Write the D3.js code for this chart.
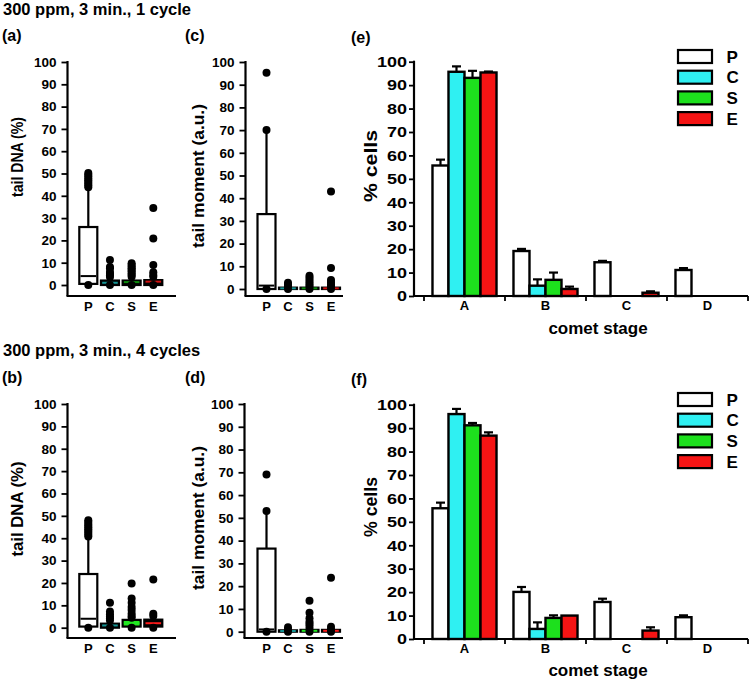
<!DOCTYPE html>
<html><head><meta charset="utf-8">
<script src="https://cdn.jsdelivr.net/npm/d3@7"></script>
<style>
body{margin:0;background:#fff;}
svg text{font-family:"Liberation Sans",Arial,Helvetica,sans-serif;font-weight:bold;fill:#000;}
</style></head><body>
<svg id="chart" width="750" height="683"></svg>
<script>
// ---------- DATA ----------
const groups = ["P", "C", "S", "E"];
const stages = ["A", "B", "C", "D"];
const yTickValues = [0, 10, 20, 30, 40, 50, 60, 70, 80, 90, 100];
const titles = ["300 ppm, 3 min., 1 cycle", "300 ppm, 3 min., 4 cycles"];

// (a) tail DNA (%), 1 cycle
const aQ1 = [0.5, 0, 0, 0];
const aMedian = [4, 1, 1.3, 1.5];
const aQ3 = [26, 2, 2, 2.2];
const aWhiskerHi = [43, 3, 3, 3];
const aOutliers = [
  [0, 43.8, 44.6, 45.4, 46.2, 47, 47.8, 48.6, 49.4, 50.2],
  [0, 3.6, 4.4, 5, 5.8, 7.5, 8.1, 11.2],
  [0, 3.7, 4.5, 5.2, 6, 6.7, 7.5, 8.2, 9, 9.7],
  [0, 3.7, 4.5, 5.7, 9, 20.8, 34.5]
];
// (b) tail DNA (%), 4 cycles
const bQ1 = [0.5, 0, 0.5, 0.5];
const bMedian = [4, 1, 2, 2];
const bQ3 = [24, 1.8, 3.5, 3.6];
const bWhiskerHi = [40, 3, 4, 4];
const bOutliers = [
  [0, 40.8, 41.6, 42.4, 43.2, 44, 44.8, 45.6, 46.4, 47.2, 48],
  [0, 3.2, 4.2, 5, 6, 7.2, 11.2],
  [0, 4.5, 5.2, 6.4, 7.9, 9.3, 11.1, 13, 19.8],
  [0, 5.2, 6.2, 21.5]
];
// (c) tail moment (a.u.), 1 cycle
const cQ1 = [0, 0, 0, 0];
const cMedian = [1.5, 0.3, 0.3, 0.3];
const cQ3 = [33, 0.6, 0.6, 0.6];
const cWhiskerHi = [69.5, 1, 1, 1];
const cOutliers = [
  [0, 70, 95.3],
  [0, 1.2, 2, 2.8],
  [0, 1.2, 2, 3, 4, 5, 5.8],
  [0, 1.2, 2, 3, 4, 9.2, 43]
];
// (d) tail moment (a.u.), 4 cycles
const dQ1 = [0, 0, 0, 0];
const dMedian = [1, 0.3, 0.4, 0.4];
const dQ3 = [36.5, 0.6, 0.8, 0.8];
const dWhiskerHi = [52.5, 1, 1, 1];
const dOutliers = [
  [0, 53, 69],
  [0, 1, 1.9],
  [0, 1.2, 2.5, 3.5, 4.4, 5.9, 8.3, 13.6],
  [0, 1, 2.2, 23.7]
];
// (e) % cells per comet stage, 1 cycle  (rows = stages A..D, cols = P,C,S,E)
const eMeans = [[55.7, 95.7, 93.1, 95.4], [19.2, 4.4, 6.9, 3.0], [14.4, 0, 0, 1.4], [11.1, 0, 0, 0]];
const eErrors = [[2.5, 2.3, 3.0, 0.4], [0.9, 2.7, 3.1, 1.0], [0.6, 0, 0, 0.6], [0.8, 0, 0, 0]];
// (f) % cells per comet stage, 4 cycles
const fMeans = [[55.8, 96.0, 91.2, 86.8], [20.1, 4.3, 9.0, 10.0], [15.8, 0, 0, 3.6], [9.3, 0, 0, 0]];
const fErrors = [[2.4, 2.2, 1.0, 1.4], [2.1, 2.8, 1.1, 0], [1.4, 0, 0, 1.4], [0.8, 0, 0, 0]];

// ---------- STYLES ----------
const barColors = {P: "#ffffff", C: "#2ff0f2", S: "#1de01d", E: "#f51414"};
const medColorsTop = ["#000000", "#159494", "#0c8a0c", "#d01010"];
const medColorsBot = ["#000000", "#159494", "#22e822", "#ff1a1a"];
const boxFillTop = ["#ffffff", "#000000", "#000000", "#000000"];
const boxFillBot = ["#ffffff", "#000000", "#22e822", "#000000"];

const svg = d3.select("#chart");

function txt(x, y, s, size, anchor) {
  return svg.append("text").attr("x", x).attr("y", y).attr("font-size", size)
    .attr("text-anchor", anchor || "start").text(s);
}
function vlabel(x, cy, s, size, len) {
  const t = svg.append("text").attr("transform", `translate(${x},${cy}) rotate(-90)`)
    .attr("text-anchor", "middle").attr("font-size", size).text(s);
  if (len) t.attr("textLength", len).attr("lengthAdjust", "spacingAndGlyphs");
  return t;
}

// ---------- BOX PANELS ----------
function boxPanel(cfg, q1, med, q3, wHi, outs, fills, meds) {
  const y = d3.scaleLinear().domain([0, 100]).range([cfg.y0, cfg.y100]);
  const x = d3.scalePoint().domain(groups).range([cfg.pX, cfg.eX]);
  const g = svg.append("g");
  const ax = g.append("g").attr("transform", `translate(${cfg.ax},0)`)
    .call(d3.axisLeft(y).tickValues(yTickValues).tickSize(6).tickPadding(5));
  ax.select(".domain").remove();
  ax.selectAll(".tick line").attr("stroke", "#000").attr("stroke-width", 1.8);
  ax.selectAll(".tick text").attr("font-size", 13.5).attr("fill", "#000");
  g.append("line").attr("x1", cfg.ax).attr("x2", cfg.ax).attr("y1", cfg.y100 - 1).attr("y2", cfg.xAxisY)
    .attr("stroke", "#000").attr("stroke-width", 2.2);
  g.append("line").attr("x1", cfg.ax - 1).attr("x2", cfg.xEnd).attr("y1", cfg.xAxisY).attr("y2", cfg.xAxisY)
    .attr("stroke", "#000").attr("stroke-width", 2.2);
  const bw = 18;
  groups.forEach((k, i) => {
    const cx = x(k);
    g.append("line").attr("x1", cx).attr("x2", cx).attr("y1", y(q3[i])).attr("y2", y(wHi[i]))
      .attr("stroke", "#000").attr("stroke-width", 2.2);
    g.append("rect").attr("x", cx - bw / 2).attr("width", bw)
      .attr("y", y(q3[i])).attr("height", Math.max(0.5, y(q1[i]) - y(q3[i])))
      .attr("fill", fills[i]).attr("stroke", "#000").attr("stroke-width", 2.2);
    g.append("line").attr("x1", cx - bw / 2 + 1.2).attr("x2", cx + bw / 2 - 1.2)
      .attr("y1", y(med[i])).attr("y2", y(med[i]))
      .attr("stroke", meds[i]).attr("stroke-width", 2);
    g.selectAll(null).data(outs[i]).enter().append("circle")
      .attr("cx", cx).attr("cy", d => y(d)).attr("r", 4).attr("fill", "#000");
    g.append("text").attr("x", cx).attr("y", cfg.labY).attr("text-anchor", "middle")
      .attr("font-size", 13).text(k);
  });
}

// ---------- BAR PANELS ----------
function barPanel(cfg, means, errs) {
  const y = d3.scaleLinear().domain([0, 100]).range([cfg.y0, cfg.y100]);
  const x0 = d3.scaleBand().domain(stages).range([cfg.gx0, cfg.gx1]);
  const x1 = d3.scaleBand().domain(groups).range([0, x0.bandwidth()]).paddingOuter(0.53);
  const g = svg.append("g");
  const ax = g.append("g").attr("transform", `translate(${cfg.ax},0)`)
    .call(d3.axisLeft(y).tickValues(yTickValues).tickSize(5).tickPadding(0));
  ax.select(".domain").remove();
  ax.selectAll(".tick line").attr("stroke", "#000").attr("stroke-width", 1.8);
  ax.selectAll(".tick text").attr("font-size", 15).attr("fill", "#000")
    .attr("x", 0).attr("transform", "translate(-7,0) scale(1.2,1)");
  g.append("line").attr("x1", cfg.ax).attr("x2", cfg.ax).attr("y1", cfg.y100 - 1).attr("y2", cfg.y0)
    .attr("stroke", "#000").attr("stroke-width", 2.2);
  g.append("line").attr("x1", cfg.ax - 1).attr("x2", cfg.gx1).attr("y1", cfg.y0).attr("y2", cfg.y0)
    .attr("stroke", "#000").attr("stroke-width", 2.2);
  const bounds = stages.map(s => x0(s)).concat([cfg.gx1]);
  bounds.forEach(b => g.append("line").attr("x1", b).attr("x2", b).attr("y1", cfg.y0).attr("y2", cfg.y0 + 5)
    .attr("stroke", "#000").attr("stroke-width", 1.8));
  stages.forEach((s, si) => {
    g.append("text").attr("x", x0(s) + x0.bandwidth() / 2).attr("y", cfg.labY)
      .attr("text-anchor", "middle").attr("font-size", 13).text(s);
    groups.forEach((k, ki) => {
      const v = means[si][ki], e = errs[si][ki];
      if (v <= 0) return;
      const bx = x0(s) + x1(k), w = x1.bandwidth(), cx = bx + w / 2;
      if (e > 0) {
        g.append("line").attr("x1", cx).attr("x2", cx).attr("y1", y(v)).attr("y2", y(v + e))
          .attr("stroke", "#000").attr("stroke-width", 2.2);
        g.append("line").attr("x1", cx - 4.5).attr("x2", cx + 4.5).attr("y1", y(v + e)).attr("y2", y(v + e))
          .attr("stroke", "#000").attr("stroke-width", 2.2);
      }
      g.append("rect").attr("x", bx).attr("width", w).attr("y", y(v)).attr("height", y(0) - y(v))
        .attr("fill", barColors[k]).attr("stroke", "#000").attr("stroke-width", 2.4);
    });
  });
  // legend
  groups.forEach((k, i) => {
    const ty = cfg.legY + i * 20.7;
    g.append("rect").attr("x", 678).attr("y", ty).attr("width", 34).attr("height", 13)
      .attr("fill", barColors[k]).attr("stroke", "#000").attr("stroke-width", 2.2);
    g.append("text").attr("x", 726.5).attr("y", ty + 12.5).attr("font-size", 17).text(k);
  });
}

// ---------- LAYOUT ----------
txt(3, 15, titles[0], 16.5);
txt(3, 356, titles[1], 16.5);
txt(2, 41, "(a)", 16); txt(185, 41, "(c)", 16); txt(351, 43, "(e)", 16);
txt(2, 383, "(b)", 16); txt(185, 383, "(d)", 16); txt(351, 385, "(f)", 16);

boxPanel({ax: 67.5, y100: 62, y0: 285, xAxisY: 296, xEnd: 176, pX: 88.3, eX: 153.3, labY: 311},
  aQ1, aMedian, aQ3, aWhiskerHi, aOutliers, boxFillTop, medColorsTop);
boxPanel({ax: 67.5, y100: 404, y0: 627.7, xAxisY: 638, xEnd: 176, pX: 88.3, eX: 153.3, labY: 653},
  bQ1, bMedian, bQ3, bWhiskerHi, bOutliers, boxFillBot, medColorsBot);
boxPanel({ax: 245.5, y100: 62, y0: 289, xAxisY: 296, xEnd: 343, pX: 266.5, eX: 331, labY: 311},
  cQ1, cMedian, cQ3, cWhiskerHi, cOutliers, boxFillTop, medColorsTop);
boxPanel({ax: 244.5, y100: 404, y0: 631.7, xAxisY: 638, xEnd: 343, pX: 266.5, eX: 331, labY: 653},
  dQ1, dMedian, dQ3, dWhiskerHi, dOutliers, boxFillBot, medColorsBot);

barPanel({ax: 414, y100: 61.7, y0: 296, gx0: 424, gx1: 748, labY: 310, legY: 50}, eMeans, eErrors);
barPanel({ax: 414, y100: 404.7, y0: 639, gx0: 424, gx1: 748, labY: 653, legY: 393}, fMeans, fErrors);

vlabel(23, 157, "tail DNA (%)", 17, 80);
vlabel(23, 509, "tail DNA (%)", 17, 95);
vlabel(204, 176, "tail moment (a.u.)", 17, 144);
vlabel(204, 518, "tail moment (a.u.)", 17, 144);
vlabel(377, 166, "% cells", 17.5, 72);
vlabel(377, 507, "% cells", 17.5, 60);
txt(598, 334, "comet stage", 17, "middle");
txt(598, 676, "comet stage", 17, "middle");
</script>
</body></html>
